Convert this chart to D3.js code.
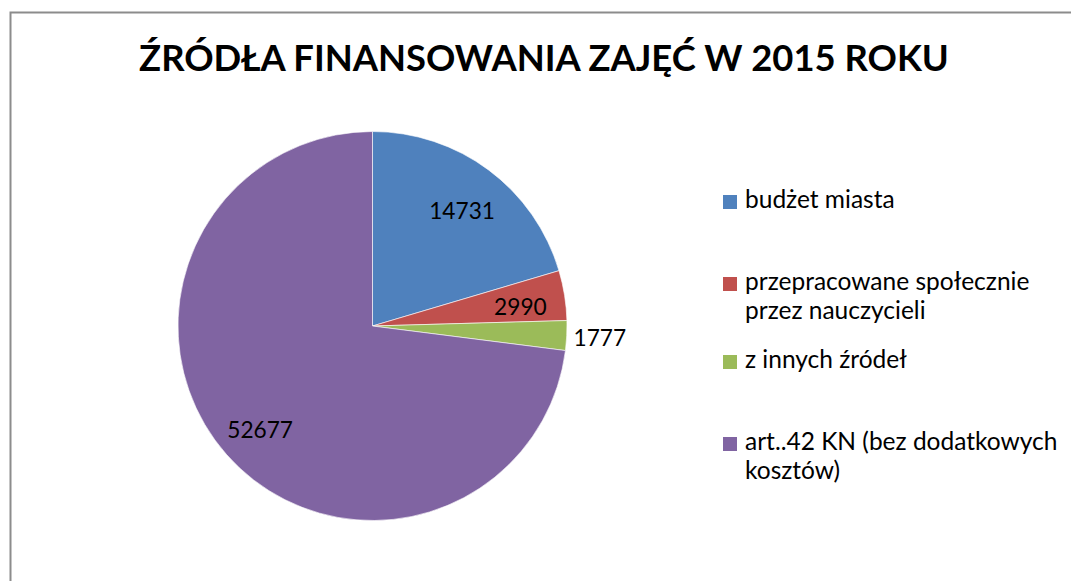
<!DOCTYPE html>
<html>
<head>
<meta charset="utf-8">
<script src="https://d3js.org/d3.v7.min.js"></script>
<style>
  body { margin: 0; background: #fff; }
  text { font-family: Lato, "Open Sans", sans-serif; fill: #000; }
</style>
</head>
<body>
<div id="chart"></div>
<script>
// data
var categories = ["budżet miasta", "przepracowane społecznie przez nauczycieli", "z innych źródeł", "art..42 KN (bez dodatkowych kosztów)"];
var values = [14731, 2990, 1777, 52677];
var legendLines = [["budżet miasta"], ["przepracowane społecznie", "przez nauczycieli"], ["z innych źródeł"], ["art..42 KN (bez dodatkowych", "kosztów)"]];
var colors = ["#4F81BD", "#C0504D", "#9BBB59", "#8064A2"];
var title = "ŹRÓDŁA FINANSOWANIA ZAJĘĆ W 2015 ROKU";

var width = 1071, height = 581;
var cx = 372.5, cy = 326, radius = 194.5;

var svg = d3.select("#chart").append("svg")
    .attr("width", width)
    .attr("height", height);

// chart frame (right and bottom edges fall outside the view)
svg.append("rect")
    .attr("x", 10.5).attr("y", 12.5)
    .attr("width", 1100).attr("height", 700)
    .attr("fill", "none")
    .attr("stroke", "#8c8c8c")
    .attr("stroke-width", 2);

// title
svg.append("text")
    .attr("x", 544)
    .attr("y", 71)
    .attr("text-anchor", "middle")
    .attr("font-weight", "bold")
    .attr("font-size", 36.4)
    .text(title);

// pie
var pie = d3.pie().sort(null).value(function (d) { return d; });
var arcs = pie(values);
var arc = d3.arc().innerRadius(0).outerRadius(radius);
var inLabel = d3.arc().innerRadius(radius * 0.77).outerRadius(radius * 0.77);
var outLabel = d3.arc().innerRadius(radius * 1.17).outerRadius(radius * 1.17);

var g = svg.append("g").attr("transform", "translate(" + cx + "," + cy + ")");

g.selectAll("path")
    .data(arcs)
    .enter()
    .append("path")
    .attr("d", arc)
    .attr("fill", function (d, i) { return colors[i]; })
    .attr("stroke", "#fff")
    .attr("stroke-width", 0.6);

g.selectAll("text.lbl")
    .data(arcs)
    .enter()
    .append("text")
    .attr("class", "lbl")
    .attr("text-anchor", "middle")
    .attr("dy", "0.38em")
    .attr("font-size", 22.7)
    .attr("transform", function (d) {
        var small = (d.endAngle - d.startAngle) < 0.2;
        var c = small ? outLabel.centroid(d) : inLabel.centroid(d);
        return "translate(" + c[0] + "," + (c[1] + (small ? 0 : 4)) + ")";
    })
    .text(function (d) { return d.data; });

// legend
var legendY = [208, 290, 368, 450];
var lg = svg.append("g");
categories.forEach(function (c, i) {
    lg.append("rect")
        .attr("x", 723).attr("y", legendY[i] - 13)
        .attr("width", 14).attr("height", 14)
        .attr("fill", colors[i]);
    legendLines[i].forEach(function (line, j) {
        lg.append("text")
            .attr("x", 745)
            .attr("y", legendY[i] + j * 29)
            .attr("font-size", 24.5)
            .text(line);
    });
});
</script>
</body>
</html>
